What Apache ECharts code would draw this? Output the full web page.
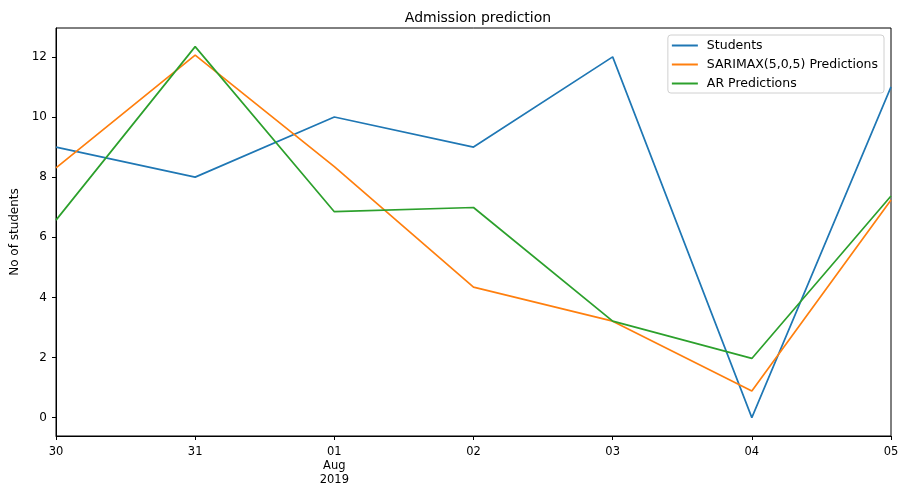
<!DOCTYPE html>
<html><head><meta charset="utf-8">
<script src="https://cdn.jsdelivr.net/npm/echarts@6/dist/echarts.min.js"></script>
<style>html,body{margin:0;padding:0;background:#fff}#c{width:898px;height:488px}</style>
</head><body><div id="c"></div>
<script>
var categories = ['30', '31', '01\nAug\n2019', '02', '03', '04', '05'];
var students = [9, 8, 10, 9, 12, 0, 11];
var sarimax = [8.31, 12.06, 8.35, 4.34, 3.21, 0.89, 7.24];
var arPred = [6.57, 12.34, 6.85, 6.99, 3.21, 1.97, 7.37];
var yTicks = [0, 2, 4, 6, 8, 10, 12];

var font = 'DejaVu Sans';
var chart = echarts.init(document.getElementById('c'), null, {renderer: 'canvas'});
function line(name, data, color) {
  return {name: name, type: 'line', data: data, symbol: 'none', smooth: false,
    lineStyle: {color: color, width: 1.7}, itemStyle: {color: color}, z: 3};
}
chart.setOption({
  animation: false,
  backgroundColor: '#fff',
  title: {text: 'Admission prediction', left: 473, top: 6, textAlign: 'center',
    textStyle: {fontFamily: font, fontSize: 14, fontWeight: 'normal', color: '#000'}},
  grid: {left: 56, right: 7, top: 28, bottom: 52, show: true, borderColor: '#000', borderWidth: 1,
    containLabel: false, outerBoundsMode: 'none'},
  legend: {orient: 'vertical', right: 14, top: 35, padding: [4, 6, 3, 4],
    backgroundColor: '#fff', borderColor: '#d0d0d0', borderWidth: 1, borderRadius: 3,
    itemWidth: 26, itemHeight: 12, itemGap: 6,
    icon: 'path://M0,5 L26,5 L26,7 L0,7 Z',
    textStyle: {fontFamily: font, fontSize: 12.5, color: '#000', padding: [0, 0, 0, 4]},
    data: ['Students', 'SARIMAX(5,0,5) Predictions', 'AR Predictions']},
  xAxis: {type: 'category', data: categories, boundaryGap: false,
    axisLine: {show: true, onZero: false, lineStyle: {color: '#000', width: 1}},
    axisTick: {show: true, inside: false, length: 4, alignWithLabel: true, lineStyle: {color: '#000'}},
    axisLabel: {fontFamily: font, fontSize: 11.5, color: '#000', margin: 9, lineHeight: 14, interval: 0},
    splitLine: {show: false}},
  yAxis: {type: 'value', min: -0.61, max: 12.96,
    name: 'No of students', nameLocation: 'middle', nameGap: 32, nameRotate: 90,
    nameTextStyle: {fontFamily: font, fontSize: 12, color: '#000'},
    axisLine: {show: true, lineStyle: {color: '#000', width: 1}},
    axisTick: {show: true, length: 4, customValues: yTicks, lineStyle: {color: '#000'}},
    axisLabel: {fontFamily: font, fontSize: 12, color: '#000', margin: 9, customValues: yTicks},
    splitLine: {show: false}},
  series: [
    line('Students', students, '#1f77b4'),
    line('SARIMAX(5,0,5) Predictions', sarimax, '#ff7f0e'),
    line('AR Predictions', arPred, '#2ca02c')
  ]
});
</script></body></html>
